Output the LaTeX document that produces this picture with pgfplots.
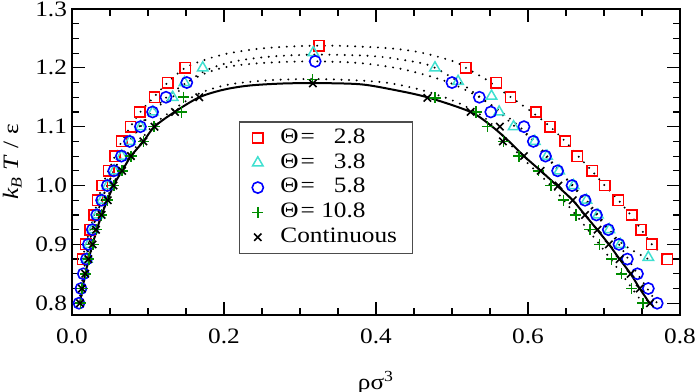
\documentclass[border=0pt]{standalone}
\usepackage{fontspec}
\setmainfont{Liberation Serif}[FakeStretch=1.15]
\usepackage{pgfplots}
\pgfplotsset{compat=1.18}
\definecolor{xred}{RGB}{255,0,0}
\definecolor{xturq}{RGB}{64,224,208}
\definecolor{xblue}{RGB}{0,0,255}
\definecolor{xgreen}{RGB}{0,140,0}
\begin{document}
\begin{tikzpicture}
\begin{axis}[
  scale only axis, width=304pt, height=153pt,
  xmin=0, xmax=0.8, ymin=0.78, ymax=1.3,
  xtick={0,0.2,0.4,0.6,0.8}, ytick={0.8,0.9,1.0,1.1,1.2,1.3},
  minor tick num=3,
  tick align=inside, tick pos=both,
  major tick length=6.5pt, minor tick length=3.5pt,
  every tick/.style={black, line width=0.6pt},
  axis line style={line width=1pt},
  tick label style={font=\fontsize{11}{13}\selectfont},
  /pgf/number format/assume math mode=true,
  /pgf/number format/.cd, fixed, fixed zerofill, precision=1, /pgfplots/.cd,
  xticklabel style={yshift=-3.5pt},
  yticklabel style={xshift=1pt},
  xlabel={ρσ\textsuperscript{3}},
  xlabel style={yshift=-7pt},
  ylabel={\textit{k}\textsubscript{\textit{B}} \textit{T} / ε},
  label style={font=\fontsize{11}{13}\selectfont},
  legend cell align=left,
  legend style={at={(axis cs:0.220,1.109)}, anchor=north west,
    draw=black!70, line width=0.6pt, font=\fontsize{11}{13}\selectfont,
    nodes={inner sep=1.5pt, text height=7.2pt, text depth=1.8pt},
    /tikz/every odd column/.append style={column sep=7pt},
    row sep=0.4pt, inner xsep=6.2pt, inner ysep=2pt},
]
% fitted curves
\addplot[forget plot, black, line width=1.1pt, dash pattern=on 0pt off 3.8pt, line cap=round, smooth, tension=0.5] coordinates {
(0.014,0.875)(0.018,0.9)(0.0237,0.925)(0.029,0.95)(0.034,0.975)(0.040,1.0)(0.048,1.025)(0.0566,1.05)(0.0654,1.075)(0.077,1.1)(0.090,1.125)(0.1075,1.15)(0.126,1.175)(0.149,1.2)(0.178,1.215)(0.2076,1.225)(0.25,1.233)(0.30,1.237)(0.35,1.2375)(0.414,1.2337)(0.458,1.2263)(0.502,1.211)(0.518,1.2)(0.545,1.18)(0.572,1.155)(0.605,1.125)(0.629,1.1)(0.649,1.075)(0.666,1.05)(0.684,1.025)(0.701,1.0)(0.719,0.975)(0.735,0.95)(0.749,0.925)(0.763,0.9)(0.783,0.875)};
\addplot[forget plot, black, line width=1.1pt, dash pattern=on 0pt off 3.8pt, line cap=round, smooth, tension=0.5] coordinates {
(0.019,0.875)(0.0268,0.925)(0.039,0.975)(0.055,1.025)(0.0755,1.075)(0.104,1.125)(0.132,1.15)(0.152,1.175)(0.175,1.195)(0.21,1.210)(0.26,1.219)(0.32,1.2225)(0.38,1.221)(0.414,1.2176)(0.458,1.2084)(0.4776,1.2)(0.508,1.177)(0.535,1.152)(0.562,1.125)(0.583,1.1)(0.609,1.075)(0.641,1.025)(0.677,0.975)(0.707,0.925)(0.725,0.9)(0.758,0.875)};
\addplot[forget plot, black, line width=1.1pt, dash pattern=on 0pt off 3.8pt, line cap=round, smooth, tension=0.5] coordinates {
(0.0092,0.8)(0.015,0.85)(0.0215,0.9)(0.0325,0.95)(0.0465,1.0)(0.065,1.05)(0.09,1.1)(0.12,1.145)(0.151,1.175)(0.18,1.193)(0.21,1.203)(0.26,1.209)(0.32,1.211)(0.38,1.208)(0.43,1.199)(0.47,1.186)(0.5,1.173)(0.536,1.15)(0.57,1.12)(0.597,1.09)(0.623,1.05)(0.658,1.0)(0.69,0.95)(0.7197,0.9)(0.744,0.85)(0.770,0.8)};
\addplot[forget plot, black, line width=1.1pt, dash pattern=on 0pt off 3.8pt, line cap=round, smooth, tension=0.5] coordinates {
(0.011,0.8)(0.018,0.85)(0.0275,0.9)(0.039,0.95)(0.053,1.0)(0.076,1.05)(0.105,1.1)(0.14,1.135)(0.17,1.158)(0.208,1.172)(0.26,1.179)(0.317,1.181)(0.37,1.179)(0.414,1.1747)(0.458,1.163)(0.502,1.144)(0.54,1.118)(0.567,1.085)(0.59,1.05)(0.63,1.0)(0.663,0.95)(0.694,0.9)(0.723,0.85)(0.751,0.8)};
\addplot[forget plot, black, line width=1pt, smooth, tension=0.5] coordinates {
(0.0105,0.8)(0.0175,0.85)(0.027,0.9)(0.039,0.95)(0.0547,1.0)(0.066,1.025)(0.0776,1.05)(0.094,1.075)(0.1085,1.1)(0.135,1.125)(0.1675,1.15)(0.2,1.163)(0.234,1.170)(0.28,1.1735)(0.33,1.174)(0.38,1.172)(0.42,1.1635)(0.4675,1.15)(0.5245,1.125)(0.553,1.1)(0.575,1.075)(0.5947,1.05)(0.6167,1.025)(0.638,1.0)(0.6588,0.975)(0.675,0.95)(0.691,0.925)(0.7065,0.9)(0.7205,0.875)(0.735,0.85)(0.747,0.825)(0.760,0.8)};
% Theta = 2.8
\addplot[only marks, mark=square, mark size=2.6pt, xred, mark options={line width=0.75pt}] coordinates {
(0.014,0.875)(0.018,0.9)(0.0237,0.925)(0.029,0.95)(0.0335,0.975)(0.040,1.0)(0.0485,1.025)(0.0566,1.05)(0.0654,1.075)(0.077,1.1)(0.089,1.125)(0.1085,1.15)(0.126,1.175)(0.149,1.2)(0.325,1.2376)(0.518,1.2)(0.558,1.175)(0.577,1.15)(0.6105,1.125)(0.629,1.1)(0.649,1.075)(0.665,1.05)(0.6846,1.025)(0.701,1.0)(0.719,0.975)(0.7364,0.95)(0.7487,0.925)(0.7627,0.9)(0.783,0.875)};
\addlegendentry{Θ\hspace{1pt}= \phantom{1}2.8}
% Theta = 3.8
\addplot[only marks, mark=triangle, mark size=3pt, xturq, mark options={line width=0.75pt}] coordinates {
(0.0195,0.875)(0.022,0.9)(0.0272,0.925)(0.033,0.95)(0.0395,0.975)(0.047,1.0)(0.0556,1.025)(0.0655,1.05)(0.0762,1.075)(0.0905,1.1)(0.1065,1.125)(0.1325,1.15)(0.148,1.175)(0.172,1.2)(0.3176,1.226)(0.4776,1.2)(0.508,1.177)(0.552,1.152)(0.562,1.125)(0.581,1.1)(0.609,1.075)(0.625,1.05)(0.641,1.025)(0.660,1.0)(0.677,0.975)(0.692,0.95)(0.707,0.925)(0.7215,0.9)(0.7583,0.878)};
\addlegendentry{Θ\hspace{1pt}= \phantom{1}3.8}
% Theta = 5.8
\addplot[only marks, mark=o, mark size=2.8pt, xblue, mark options={line width=0.8pt}] coordinates {
(0.0092,0.8)(0.0118,0.825)(0.0149,0.85)(0.019,0.875)(0.0215,0.9)(0.0268,0.925)(0.0325,0.95)(0.039,0.975)(0.0465,1.0)(0.055,1.025)(0.065,1.05)(0.0757,1.075)(0.090,1.1)(0.106,1.125)(0.1237,1.15)(0.151,1.175)(0.320,1.211)(0.500,1.175)(0.536,1.15)(0.551,1.125)(0.5947,1.1)(0.607,1.075)(0.623,1.05)(0.639,1.025)(0.658,1.0)(0.675,0.975)(0.690,0.95)(0.7057,0.925)(0.7197,0.9)(0.7307,0.875)(0.744,0.85)(0.7583,0.825)(0.770,0.8)};
\addlegendentry{Θ\hspace{1pt}= \phantom{1}5.8}
% Theta = 10.8
\addplot[only marks, mark=+, mark size=2.8pt, xgreen, mark options={line width=0.8pt}] coordinates {
(0.011,0.8)(0.0135,0.825)(0.018,0.85)(0.022,0.875)(0.0275,0.9)(0.032,0.925)(0.039,0.95)(0.0465,0.975)(0.055,1.0)(0.066,1.025)(0.0776,1.05)(0.094,1.075)(0.108,1.1)(0.1443,1.125)(0.1465,1.15)(0.3167,1.180)(0.4776,1.149)(0.5316,1.125)(0.5465,1.1)(0.5675,1.075)(0.588,1.05)(0.6136,1.025)(0.630,1.0)(0.6465,0.975)(0.663,0.95)(0.6816,0.925)(0.694,0.9)(0.710,0.875)(0.723,0.85)(0.7364,0.825)(0.751,0.8)};
\addlegendentry{Θ\hspace{1pt}= 10.8}
% Continuous
\addplot[only marks, mark=x, mark size=2.6pt, black, mark options={line width=0.8pt}] coordinates {
(0.0105,0.8)(0.013,0.825)(0.0175,0.85)(0.0215,0.875)(0.027,0.9)(0.0316,0.925)(0.039,0.95)(0.047,0.975)(0.0547,1.0)(0.066,1.025)(0.0776,1.05)(0.094,1.075)(0.1085,1.1)(0.1355,1.125)(0.1675,1.15)(0.317,1.1735)(0.4675,1.149)(0.5245,1.125)(0.563,1.1)(0.567,1.075)(0.5947,1.05)(0.6167,1.025)(0.640,1.0)(0.6588,0.975)(0.675,0.95)(0.6915,0.925)(0.7065,0.9)(0.7205,0.875)(0.735,0.85)(0.747,0.825)(0.7605,0.8)};
\addlegendentry{Continuous}
\end{axis}
\pgfresetboundingbox
\path ([shift={(-36pt,-38.5pt)}]current axis.south west) rectangle ([shift={(8pt,4.5pt)}]current axis.north east);
\end{tikzpicture}
\end{document}
